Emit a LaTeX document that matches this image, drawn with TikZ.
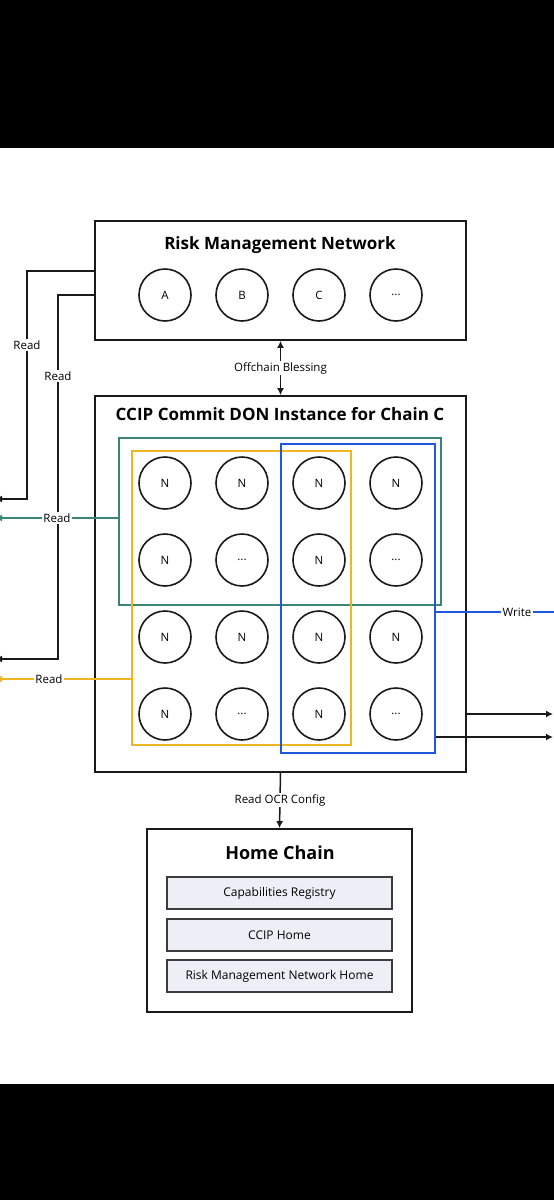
\documentclass[tikz,border=0pt]{standalone}
\usepackage{fontspec}
\setmainfont{Open Sans}
\usetikzlibrary{arrows.meta}
\definecolor{cteal}{HTML}{3A8577}
\definecolor{cyel}{HTML}{EDB622}
\definecolor{cblue}{HTML}{2159DE}
\definecolor{csub}{HTML}{EDEFF6}
\definecolor{cline}{HTML}{1A1A1A}
\tikzset{
  box/.style={draw=cline, line width=1.8pt, rectangle, inner sep=0pt},
  grp/.style={draw=#1, line width=1.7pt, rectangle, inner sep=0pt},
  nd/.style={draw=cline, line width=1.6pt, circle, minimum size=52pt, inner sep=0pt, font=\fontsize{11.5}{13}\selectfont},
  sub/.style={draw=cline!85, line width=1.4pt, fill=csub, rectangle, minimum width=225pt, minimum height=32pt, inner sep=0pt, font=\fontsize{12}{14}\selectfont},
  ttl/.style={font=\fontsize{17}{20}\selectfont\bfseries, inner sep=0pt},
  lbl/.style={fill=white, inner sep=1.5pt, font=\fontsize{11.5}{13}\selectfont},
  conn/.style={draw=cline, line width=1.5pt},
  tip/.style={-{Latex[length=7pt,width=7pt]}}
}
\begin{document}
\begin{tikzpicture}[x=1pt,y=-1pt]
\useasboundingbox (0,0) rectangle (554,1200);
\clip (0,0) rectangle (554,1200);
\fill[white] (0,0) rectangle (554,1200);
\fill[black] (0,0) rectangle (554,147.5);
\fill[black] (0,1083.5) rectangle (554,1200);

% Risk Management Network
\node[box, minimum width=371pt, minimum height=119pt] (rmn) at (280.5,280.5) {};
\node[ttl] (rmnt) at (280,245) {Risk Management Network};
\node[nd] (ra) at (165,295) {A};
\node[nd] (rb) at (242,295) {B};
\node[nd] (rc) at (319,295) {C};
\node[nd] (rd) at (396,295) {...};

% CCIP commit DON
\node[box, minimum width=371pt, minimum height=376pt] (ccip) at (280.5,584) {};
\node[ttl] (ccipt) at (280,414) {CCIP Commit DON Instance for Chain C};

\foreach \r/\y in {1/483,2/560,3/637,4/714}{
  \foreach \c/\x in {1/165,2/242,3/319,4/396}{
    \pgfmathtruncatemacro{\even}{mod(\r,2)==0 && mod(\c,2)==0}
    \ifnum\even=1
      \node[nd] (n\r\c) at (\x,\y) {...};
    \else
      \node[nd] (n\r\c) at (\x,\y) {N};
    \fi
  }
}

\node[grp=cteal, minimum width=322pt, minimum height=167pt] (green) at (280,521.5) {};
\node[grp=cyel, minimum width=219pt, minimum height=294pt] (yel) at (241.5,598) {};
\node[grp=cblue, minimum width=154pt, minimum height=309pt] (blue) at (358,598.5) {};

% Home chain
\node[box, minimum width=265pt, minimum height=183pt] (home) at (279.5,920.5) {};
\node[ttl, font=\fontsize{18}{21}\selectfont\bfseries] (homet) at (280,853) {Home Chain};
\node[sub] (s1) at (279.5,893) {Capabilities Registry};
\node[sub] (s2) at (279.5,935) {CCIP Home};
\node[sub] (s3) at (279.5,976) {Risk Management Network Home};

% free ends
\coordinate (e1) at (-5,499);
\coordinate (e2) at (-5,659);
\coordinate (e3) at (-5,518);
\coordinate (e4) at (-5,679);
\coordinate (e5) at (563,612);
\coordinate (e6) at (553,714);
\coordinate (e7) at (553,737);

% Left reads from RMN
\draw[conn, tip] (rmn.west |- 0,271) -| (27,499) -- (e1);
\node[lbl] at (27,345) {Read};
\draw[conn, tip] (rmn.west |- 0,295) -| (58,659) -- (e2);
\node[lbl] at (58,376) {Read};

% Teal read
\draw[conn, draw=cteal, tip] (green.west |- 0,518) -- (e3);
\node[lbl] at (57,518) {Read};
% Yellow read
\draw[conn, draw=cyel, tip] (yel.west |- 0,679) -- (e4);
\node[lbl] at (49,679) {Read};

% Write
\draw[conn, draw=cblue, tip] (blue.east |- 0,612) -- (e5);
\node[lbl] at (517,612) {Write};

% right black arrows
\draw[conn, tip] (ccip.east |- 0,714) -- (e6);
\draw[conn, tip] (blue.east |- 0,737) -- (e7);

% Offchain blessing
\draw[conn, {Latex[length=7pt,width=7pt]}-{Latex[length=7pt,width=7pt]}] (rmn.south) -- (ccip.north);
\node[lbl] at (280.5,368) {Offchain Blessing};

% Read OCR config
\draw[conn, tip] (ccip.south) -- (home.north);
\node[lbl] at (280,800) {Read OCR Config};
\end{tikzpicture}
\end{document}
